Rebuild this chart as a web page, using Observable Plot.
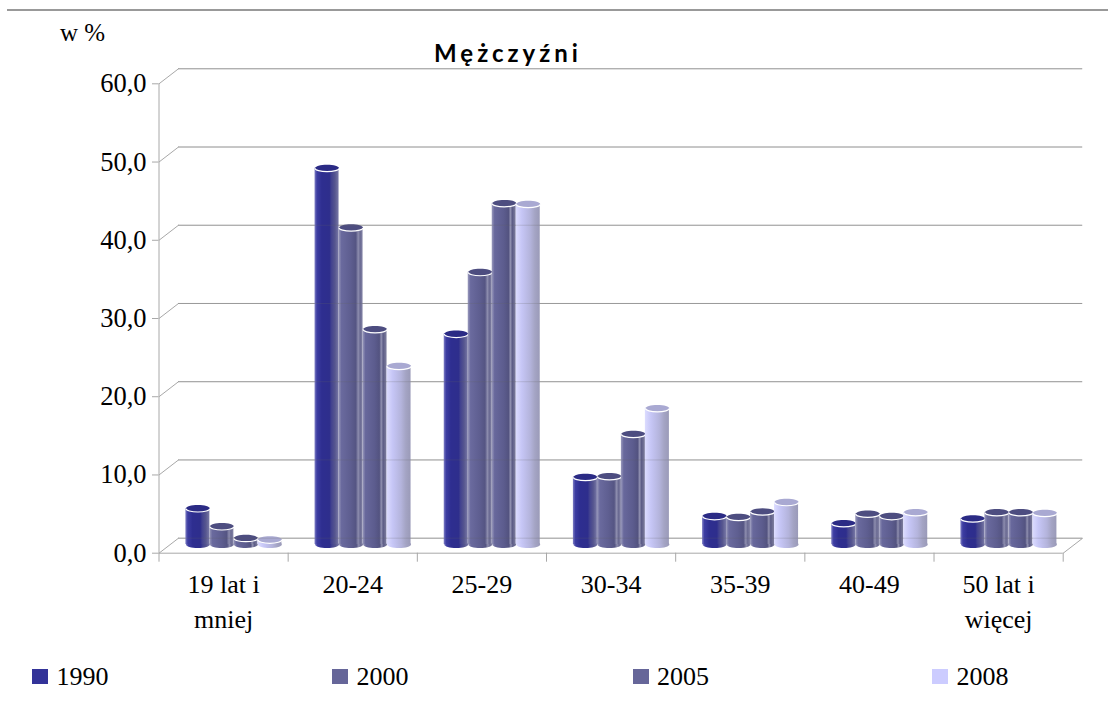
<!DOCTYPE html>
<html lang="pl">
<head>
<meta charset="utf-8">
<script src="https://cdn.jsdelivr.net/npm/d3@7"></script>
<script src="https://cdn.jsdelivr.net/npm/@observablehq/plot@0.6"></script>
<style>
  html, body { margin: 0; padding: 0; background: #fff; }
  #chart { position: relative; width: 1108px; height: 705px; overflow: hidden; font-family: "Liberation Serif", serif; color: #000; }
  #chart svg { display: block; }
  .rule { position: absolute; left: 7px; right: 0; top: 9px; height: 2px; background: #999; }
  .unit { position: absolute; left: 60px; top: 15px; font-size: 25px; line-height: 36px; }
  .title { position: absolute; left: 388px; width: 240px; top: 38px; text-align: center; font: bold 24px/30px Lato, sans-serif; letter-spacing: 4px; }
  .legend span { position: absolute; top: 658px; font-size: 26px; line-height: 38px; }
  .legend i { position: absolute; top: 669px; width: 16px; height: 15px; }
</style>
</head>
<body>
<div id="chart">
  <div class="rule"></div>
  <div class="unit">w %</div>
  <div class="title">Mężczyźni</div>
  <div class="legend" id="legend"></div>
</div>
<script>
const categories = ["19 lat i\nmniej", "20-24", "25-29", "30-34", "35-39", "40-49", "50 lat i\nwięcej"];
const years = ["1990", "2000", "2005", "2008"];
const v1990 = [4.6, 48.1, 26.9, 8.6, 3.6, 2.7, 3.3];
const v2000 = [2.3, 40.5, 34.8, 8.7, 3.5, 3.9, 4.1];
const v2005 = [0.8, 27.5, 43.6, 14.1, 4.2, 3.6, 4.1];
const v2008 = [0.6, 22.8, 43.5, 17.4, 5.4, 4.1, 4.0];
const yTicks = [0, 10, 20, 30, 40, 50, 60];
const swatchColors = ["#333399", "#666699", "#666699", "#ccccff"];
const capColors = ["#2b2b85", "#4d4d80", "#4d4d80", "#a9a9d2"];
const bodyStops = [
  [[0, "#7f7fc4"], [.1, "#3d3da2"], [.3, "#2e2e90"], [.62, "#2e2e8c"], [.7, "#42428f"], [.85, "#56568f"], [1, "#7878a6"]],
  [[0, "#9a9abc"], [.12, "#6a6a9e"], [.5, "#5e5e90"], [.72, "#555583"], [.82, "#8d8dae"], [.9, "#6a6a92"], [1, "#8484a6"]],
  [[0, "#9a9abc"], [.12, "#68689c"], [.5, "#5c5c8e"], [.7, "#535380"], [.78, "#9090b0"], [.86, "#5c5c86"], [1, "#80809f"]],
  [[0, "#dcdcff"], [.25, "#c6c6f6"], [.6, "#b4b4dc"], [.8, "#a4a4c4"], [1, "#9a9ab8"]]
];

const seriesValues = [v1990, v2000, v2005, v2008];
const slot = 0.1858;                // cylinder width, in category units
const depthX = 0.151, depthY = 1.92; // receding offset of the back wall, in scale units
const rows = years.map((year, s) => categories.map((cat, c) => ({
  cat, year, value: seriesValues[s][c],
  left: c + 0.5 + (s - 2) * slot,
  mid: c + 0.5 + (s - 1.5) * slot,
  right: c + 0.5 + (s - 1) * slot
})));

function ellipse(draw) { return { draw }; }
const K = 0.5523, SQUASH = 0.29;
const fullEllipse = ellipse((ctx, size) => {
  const a = Math.sqrt(size / Math.PI), b = a * SQUASH;
  ctx.moveTo(-a, 0);
  ctx.bezierCurveTo(-a, -K * b, -K * a, -b, 0, -b);
  ctx.bezierCurveTo(K * a, -b, a, -K * b, a, 0);
  ctx.bezierCurveTo(a, K * b, K * a, b, 0, b);
  ctx.bezierCurveTo(-K * a, b, -a, K * b, -a, 0);
  ctx.closePath();
});
const frontArc = ellipse((ctx, size) => {
  const a = Math.sqrt(size / Math.PI), b = a * SQUASH;
  ctx.moveTo(a, 0);
  ctx.bezierCurveTo(a, K * b, K * a, b, 0, b);
  ctx.bezierCurveTo(-K * a, b, -a, K * b, -a, 0);
});
const R = 12, DX = 10.3, DY = -8.7;

const gradients = () => {
  const ns = "http://www.w3.org/2000/svg";
  const defs = document.createElementNS(ns, "defs");
  bodyStops.forEach((stops, s) => {
    const g = document.createElementNS(ns, "linearGradient");
    g.setAttribute("id", "body" + s);
    stops.forEach(([o, c]) => {
      const st = document.createElementNS(ns, "stop");
      st.setAttribute("offset", o);
      st.setAttribute("stop-color", c);
      g.appendChild(st);
    });
    defs.appendChild(g);
  });
  return defs;
};

const cylinders = rows.flatMap((data, s) => [
  Plot.dot(data, { x: "mid", y: () => 0, r: R, symbol: fullEllipse, fill: `url(#body${s})`, stroke: "none", dx: DX, dy: DY }),
  Plot.rect(data, { x1: "left", x2: "right", y1: () => 0, y2: "value", fill: `url(#body${s})`, dx: DX, dy: DY }),
  Plot.dot(data, { x: "mid", y: "value", r: R, symbol: fullEllipse, fill: capColors[s], stroke: "none", dx: DX, dy: DY }),
  Plot.dot(data, { x: "mid", y: "value", r: R, symbol: frontArc, fill: "none", stroke: "#fff", strokeWidth: 1.2, dx: DX, dy: DY })
]);

const GRID = "#a8a8a8";
const chart = Plot.plot({
  width: 1108,
  height: 705,
  marginLeft: 158.5,
  marginRight: 45.3,
  marginTop: 83.3,
  marginBottom: 152.3,
  style: { background: "transparent", fontFamily: "Liberation Serif, serif", overflow: "visible" },
  x: { type: "linear", domain: [0, categories.length], axis: null },
  y: { type: "linear", domain: [0, 60], axis: null },
  marks: [
    gradients,
    Plot.ruleY(yTicks, { y: d => d + depthY, x1: depthX, x2: categories.length + depthX, stroke: GRID }),
    Plot.link(yTicks, { x1: 0, y1: d => d, x2: depthX, y2: d => d + depthY, stroke: GRID }),
    Plot.link([0], { x1: categories.length, y1: 0, x2: categories.length + depthX, y2: depthY, stroke: GRID }),
    Plot.ruleX([0], { y1: 0, y2: 60, stroke: GRID }),
    Plot.ruleY([0], { x1: 0, x2: categories.length, stroke: GRID }),
    Plot.ruleX(d3.range(categories.length + 1), { y1: 0, y2: -1.15, stroke: GRID }),
    Plot.axisY({
      ticks: yTicks, anchor: "left", tickSize: 6.5, tickPadding: 6, label: null, stroke: GRID,
      tickFormat: d => d.toFixed(1).replace(".", ","),
      fontSize: 26.5, color: "#000"
    }),
    Plot.text(categories, {
      x: (d, i) => i + 0.5, y: () => 0, text: d => d, dy: 15, lineAnchor: "top",
      lineHeight: 1.35, fontSize: 26, fill: "#000"
    }),
    ...cylinders,
    Plot.ruleY(yTicks, { y: d => d + depthY, x1: depthX, x2: categories.length + depthX, stroke: "#666", strokeOpacity: 0.22 })
  ]
});
const host = document.getElementById("chart");
host.insertBefore(chart, host.firstChild);

const legendX = [32, 332, 632.6, 932];
const legend = document.getElementById("legend");
years.forEach((y, i) => {
  const sw = document.createElement("i");
  sw.style.left = legendX[i] + "px";
  sw.style.background = swatchColors[i];
  const t = document.createElement("span");
  t.style.left = legendX[i] + 24.4 + "px";
  t.textContent = y;
  legend.append(sw, t);
});
</script>
</body>
</html>
